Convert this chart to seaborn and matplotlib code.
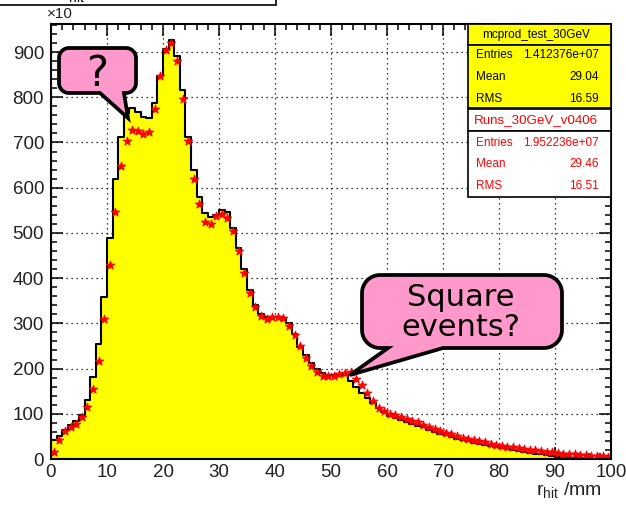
import numpy as np
import pandas as pd
import matplotlib
matplotlib.use("Agg")
import matplotlib.pyplot as plt
import seaborn as sns
from matplotlib.path import Path
from matplotlib.patches import PathPatch, Rectangle
from matplotlib.ticker import MultipleLocator

# r_hit binning (1 mm bins) and bin contents in units of 10 hits
bin_edges = np.arange(0, 101, 1)

mc_counts = [
    42, 50, 65, 75, 85, 97, 130, 181, 255, 359,
    488, 619, 712, 765, 776, 768, 756, 754, 788, 848,
    907, 927, 892, 815, 713, 639, 580, 544, 536, 539,
    550, 546, 510, 466, 420, 374, 341, 321, 315, 315,
    315, 312, 300, 277, 248, 230, 212, 200, 190, 186,
    185, 186, 186, 172, 160, 147, 135, 123, 112, 105,
    94, 90, 86, 82, 78, 74, 70, 65, 60, 56,
    52, 48, 45, 42, 39, 36, 34, 31, 28, 26,
    24, 22, 20, 18, 16, 14, 12, 10, 8, 6,
    5, 4, 3, 2, 2, 1, 1, 1, 0, 0,
]

data_counts = [
    16, 43, 62, 70, 77, 92, 116, 154, 216, 309,
    428, 547, 647, 704, 728, 725, 719, 723, 774, 847,
    904, 920, 881, 796, 704, 619, 564, 524, 520, 537,
    542, 532, 505, 459, 412, 367, 336, 317, 310, 315,
    315, 312, 295, 274, 250, 224, 206, 193, 184, 183,
    184, 188, 191, 192, 178, 163, 146, 128, 113, 106,
    100, 97, 93, 88, 85, 81, 76, 70, 66, 62,
    58, 55, 51, 47, 44, 42, 40, 37, 34, 31,
    29, 27, 26, 24, 22, 20, 19, 18, 16, 15,
    14, 12, 11, 10, 9, 8, 7, 6, 6, 5,
]

mc_name = "mcprod_test_30GeV"
mc_stats = [("Entries", "1.412376e+07"), ("Mean", "29.04"), ("RMS", "16.59")]
data_name = "Runs_30GeV_v0406"
data_stats = [("Entries", "1.952236e+07"), ("Mean", "29.46"), ("RMS", "16.51")]

x_ticks = list(range(0, 101, 10))
y_ticks = list(range(0, 901, 100))

sns.set_theme(style="white")
plt.rcParams["font.family"] = ["Liberation Sans", "DejaVu Sans"]
plt.rcParams["mathtext.fontset"] = "custom"
plt.rcParams["mathtext.rm"] = "Liberation Sans"
plt.rcParams["mathtext.it"] = "Liberation Sans:italic"

W, H = 626, 505
fig = plt.figure(figsize=(W / 100, H / 100), dpi=100)
fig.patch.set_facecolor("white")


def fx(x):
    return x / W


def fy(y):
    return 1 - y / H


ax = fig.add_axes([fx(51), fy(459), 560 / W, 435 / H])
ax.set_facecolor("white")

centers = bin_edges[:-1] + 0.5
mc_df = pd.DataFrame({"r": centers, "n": mc_counts})
data_df = pd.DataFrame({"r": centers, "n": data_counts})

sns.histplot(data=mc_df, x="r", weights="n", binwidth=1, binrange=(0, 100),
             element="step", fill=True, color="#FFFF00", alpha=1,
             edgecolor="black", linewidth=1.5, ax=ax, zorder=1)
sns.scatterplot(data=data_df, x="r", y="n", marker="*", s=38,
                color="#FF0000", edgecolor="#FF0000", linewidth=0.8, ax=ax,
                zorder=3, legend=False)

ax.set_xlim(0, 100)
ax.set_ylim(0, 962)
ax.set_xlabel("")
ax.set_ylabel("")
ax.set_xticks(x_ticks)
ax.set_yticks(y_ticks)
ax.xaxis.set_minor_locator(MultipleLocator(2))
ax.yaxis.set_minor_locator(MultipleLocator(20))
ax.tick_params(which="both", direction="in", top=True, right=True,
               bottom=True, left=True, width=1.1, color="black")
ax.tick_params(which="major", length=8.5, labelsize=13.5,
               labelcolor="#222222")
ax.tick_params(axis="y", which="major", pad=5)
ax.tick_params(axis="x", which="major", pad=3.5)
ax.tick_params(which="minor", length=4.3)
ax.grid(True, which="major", linestyle=(0, (1, 3)), color="black",
        linewidth=0.9)
ax.set_axisbelow(True)
for sp in ax.spines.values():
    sp.set_color("black")
    sp.set_linewidth(1.5)
    sp.set_zorder(5)

# axis multiplier and x-axis title
fig.text(fx(47), fy(18), "\u00d710", fontsize=11, color="#222222",
         va="baseline", ha="left")
fig.text(fx(602), fy(495.5), r"$\mathregular{r_{hit}}$ /mm", fontsize=14,
         color="#222222", ha="right", va="baseline")

# histogram title pave, mostly above the canvas
fig.add_artist(Rectangle((fx(-2), fy(5)), 278 / W, 30 / H,
                         transform=fig.transFigure, facecolor="white",
                         edgecolor="black", linewidth=1.2, zorder=6))
fig.text(fx(62), fy(-1), r"$\mathregular{r_{hit}}$", fontsize=14,
         color="black", ha="left", va="baseline", zorder=7)


# statistics boxes
def box(x0, y0, x1, y1, face):
    fig.add_artist(Rectangle((fx(x0), fy(y1)), (x1 - x0) / W, (y1 - y0) / H,
                             transform=fig.transFigure, facecolor=face,
                             edgecolor="black", linewidth=1.2, zorder=6))


bx0, bx1 = 468, 611
box(bx0, 24, bx1, 45, "#FFFF00")
box(bx0, 45, bx1, 108, "#FFFF00")
box(bx0, 109, bx1, 131, "white")
box(bx0, 131, bx1, 197, "white")

fig.text(fx(536), fy(35), mc_name, fontsize=8.5, color="black",
         ha="center", va="center", zorder=7)
fig.text(fx(536), fy(120), data_name, fontsize=9.6, color="#FF0000",
         ha="center", va="center", zorder=7)
for rows, ys, col in ((mc_stats, (55, 77, 99), "black"),
                      (data_stats, (143, 164, 186), "#FF0000")):
    for (lab, val), yy in zip(rows, ys):
        fig.text(fx(476), fy(yy), lab, fontsize=8.5, color=col,
                 ha="left", va="center", zorder=7)
        fig.text(fx(599), fy(yy), val, fontsize=8.5, color=col,
                 ha="right", va="center", zorder=7)


# speech bubbles
def bubble(x0, y0, x1, y1, r, tail_a, tail_b, tip):
    pts = []

    def arc(cx, cy, a0, a1):
        for t in np.linspace(a0, a1, 12):
            pts.append((cx + r * np.cos(t), cy + r * np.sin(t)))

    arc(x0 + r, y0 + r, np.pi, 1.5 * np.pi)
    arc(x1 - r, y0 + r, 1.5 * np.pi, 2 * np.pi)
    arc(x1 - r, y1 - r, 0, 0.5 * np.pi)
    pts.append((tail_b, y1))
    pts.append(tip)
    pts.append((tail_a, y1))
    arc(x0 + r, y1 - r, 0.5 * np.pi, np.pi)
    pts.append(pts[0])
    verts = [(fx(px), fy(py)) for px, py in pts]
    codes = [Path.MOVETO] + [Path.LINETO] * (len(verts) - 2) + [Path.CLOSEPOLY]
    patch = PathPatch(Path(verts, codes), transform=fig.transFigure,
                      facecolor="#FF99CC", edgecolor="black", linewidth=2.7,
                      joinstyle="miter", zorder=8)
    fig.add_artist(patch)


bubble(59, 48, 136, 93, 10, 100, 124, (128, 118))
fig.text(fx(97.5), fy(74), "?", fontsize=30, color="black",
         family=["DejaVu Sans"], ha="center", va="center", zorder=9)

bubble(362, 275, 562, 348, 18, 388, 443, (350, 375))
fig.text(fx(461), fy(297), "Square", fontsize=22, color="black",
         family=["DejaVu Sans"], ha="center", va="center", zorder=9)
fig.text(fx(461), fy(328), "events?", fontsize=22, color="black",
         family=["DejaVu Sans"], ha="center", va="center", zorder=9)

fig.savefig("out.png", dpi=100, facecolor="white")
